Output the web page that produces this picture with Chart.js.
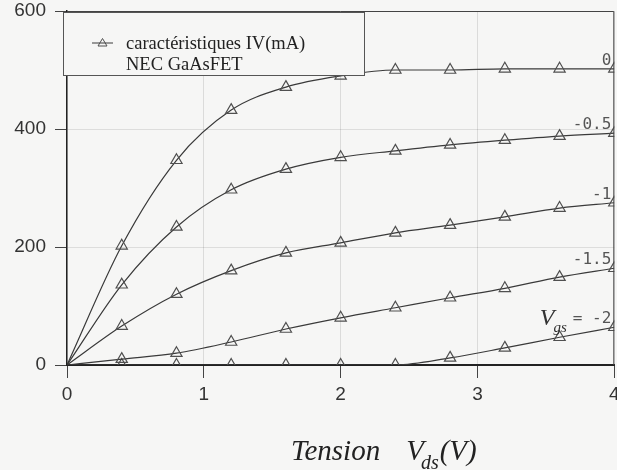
<!DOCTYPE html>
<html>
<head>
<meta charset="utf-8">
<script src="https://cdn.jsdelivr.net/npm/chart.js@4.4.1/dist/chart.umd.min.js"></script>
<style>
  html, body { margin: 0; padding: 0; background: #f6f6f5; overflow: hidden; }
  #wrap { width: 617px; height: 470px; position: relative; overflow: hidden; }
</style>
</head>
<body>
<div id="wrap"><canvas id="ivChart" width="622" height="470"></canvas></div>
<script>
// Data (Id in mA vs Vds in V)
const vds = [0, 0.4, 0.8, 1.2, 1.6, 2.0, 2.4, 2.8, 3.2, 3.6, 4.0];
const idVgs0   = [0, 202, 347, 432, 471, 490, 500, 500, 502, 502, 502];
const idVgs05  = [0, 136, 234, 297, 332, 352, 363, 373, 381, 388, 393];
const idVgs1   = [0, 66, 120, 160, 190, 207, 224, 237, 251, 266, 275];
const idVgs15  = [0, 10, 20, 39, 61, 80, 97, 114, 130, 149, 164];
const idVgs2   = [0, 0, 0, 0, 0, 0, 0, 12, 29, 47, 64];
const curveLabels = ['0', '-0.5', '-1', '-1.5', '= -2'];
const xTicks = [0, 1, 2, 3, 4];
const yTicks = [0, 200, 400, 600];

const LINE_COLOR = '#3a3a3a';
const MARK_COLOR = '#505050';
const SERIF = "'Liberation Serif', 'Times New Roman', serif";
const MONO = "'DejaVu Sans Mono', monospace";
const SANS = "'Liberation Sans', Arial, sans-serif";

function makeSeries(values) {
    return {
        data: vds.map((x, i) => ({ x: x, y: values[i] })),
        borderColor: LINE_COLOR,
        borderWidth: 1.2,
        pointStyle: 'triangle',
        pointRadius: ctx => ctx.dataIndex === 0 ? 0 : 6.5,
        pointBorderColor: MARK_COLOR,
        pointBackgroundColor: 'rgba(0,0,0,0)',
        pointBorderWidth: 1.2,
        cubicInterpolationMode: 'monotone',
        fill: false,
        clip: 0
    };
}

const seriesList = [idVgs0, idVgs05, idVgs1, idVgs15, idVgs2];

// frame, legend box, curve labels and axis title
const decorations = {
    id: 'decorations',
    afterDatasetsDraw(chart) {
        const { ctx, chartArea: a, scales } = chart;
        ctx.save();

        // top and right frame
        ctx.strokeStyle = '#444';
        ctx.lineWidth = 1;
        ctx.beginPath();
        ctx.moveTo(a.left, a.top + 0.5);
        ctx.lineTo(a.right - 0.5, a.top + 0.5);
        ctx.lineTo(a.right - 0.5, a.bottom);
        ctx.stroke();

        // legend box
        const bx = a.left - 4, by = a.top + 1, bw = 301, bh = 63;
        ctx.fillStyle = '#f6f6f5';
        ctx.fillRect(bx, by, bw, bh);
        ctx.strokeStyle = '#555';
        ctx.lineWidth = 1;
        ctx.strokeRect(bx + 0.5, by + 0.5, bw, bh);
        // legend sample
        const ly = by + 31;
        ctx.strokeStyle = LINE_COLOR;
        ctx.beginPath();
        ctx.moveTo(bx + 29, ly);
        ctx.lineTo(bx + 50, ly);
        ctx.stroke();
        ctx.strokeStyle = MARK_COLOR;
        ctx.beginPath();
        ctx.moveTo(bx + 39.5, ly - 4.5);
        ctx.lineTo(bx + 44, ly + 3);
        ctx.lineTo(bx + 35, ly + 3);
        ctx.closePath();
        ctx.stroke();
        ctx.fillStyle = '#222';
        ctx.font = '18.5px ' + SERIF;
        ctx.textAlign = 'left';
        ctx.textBaseline = 'alphabetic';
        ctx.fillText('caractéristiques IV(mA)', bx + 63, by + 37);
        ctx.fillText('NEC GaAsFET', bx + 63, by + 58);

        // curve labels at the right end of each curve
        const xr = scales.x.getPixelForValue(vds[vds.length - 1]) - 3;
        ctx.fillStyle = '#555';
        ctx.textAlign = 'right';
        seriesList.forEach((vals, k) => {
            const yb = scales.y.getPixelForValue(vals[vals.length - 1]) - 4;
            ctx.font = '16px ' + MONO;
            ctx.fillText(curveLabels[k], xr, yb);
            if (k === seriesList.length - 1) {
                const w = ctx.measureText(curveLabels[k]).width;
                ctx.font = 'italic 15px ' + SERIF;
                ctx.fillStyle = '#333';
                ctx.fillText('gs', xr - w - 6, yb + 9);
                const wg = ctx.measureText('gs').width;
                ctx.font = 'italic 24px ' + SERIF;
                ctx.fillText('V', xr - w - 6 - wg + 1, yb + 2);
            }
        });

        // x axis title: Tension V_ds(V)
        let tx = a.left + 224;
        const tb = a.bottom + 95;
        ctx.fillStyle = '#222';
        ctx.textAlign = 'left';
        ctx.font = 'italic 29px ' + SERIF;
        ctx.fillText('Tension', tx, tb);
        tx += ctx.measureText('Tension').width + 26;
        ctx.fillText('V', tx, tb);
        tx += ctx.measureText('V').width - 3;
        ctx.font = 'italic 20px ' + SERIF;
        ctx.fillText('ds', tx, tb + 9);
        tx += ctx.measureText('ds').width + 1;
        ctx.font = 'italic 29px ' + SERIF;
        ctx.fillText('(V)', tx, tb);

        ctx.restore();
    }
};

new Chart(document.getElementById('ivChart'), {
    type: 'line',
    data: { datasets: seriesList.map(makeSeries) },
    plugins: [decorations],
    options: {
        responsive: false,
        animation: false,
        layout: { padding: { top: 11, right: 3, left: 0, bottom: 0 } },
        plugins: { legend: { display: false }, tooltip: { enabled: false } },
        scales: {
            x: {
                type: 'linear',
                min: 0, max: 4,
                afterBuildTicks: s => { s.ticks = xTicks.map(v => ({ value: v })); },
                afterFit: s => { s.height = 105; s.paddingLeft = 0; s.paddingRight = 0; },
                grid: { color: 'rgba(0,0,0,0.11)', tickColor: '#444', tickLength: 13, drawOnChartArea: true },
                border: { display: true, color: '#222', width: 2 },
                ticks: { color: '#333', padding: 5, font: { family: SANS, size: 19 } }
            },
            y: {
                min: 0, max: 600,
                afterBuildTicks: s => { s.ticks = yTicks.map(v => ({ value: v })); },
                afterFit: s => { s.width = 67; s.paddingTop = 0; s.paddingBottom = 0; },
                grid: { color: 'rgba(0,0,0,0.10)', tickColor: '#444', tickLength: 12, borderDash: [3, 3] },
                border: { display: true, color: '#222', width: 1.5 },
                ticks: { color: '#333', padding: 9, font: { family: SANS, size: 19 } }
            }
        }
    }
});
</script>
</body>
</html>
